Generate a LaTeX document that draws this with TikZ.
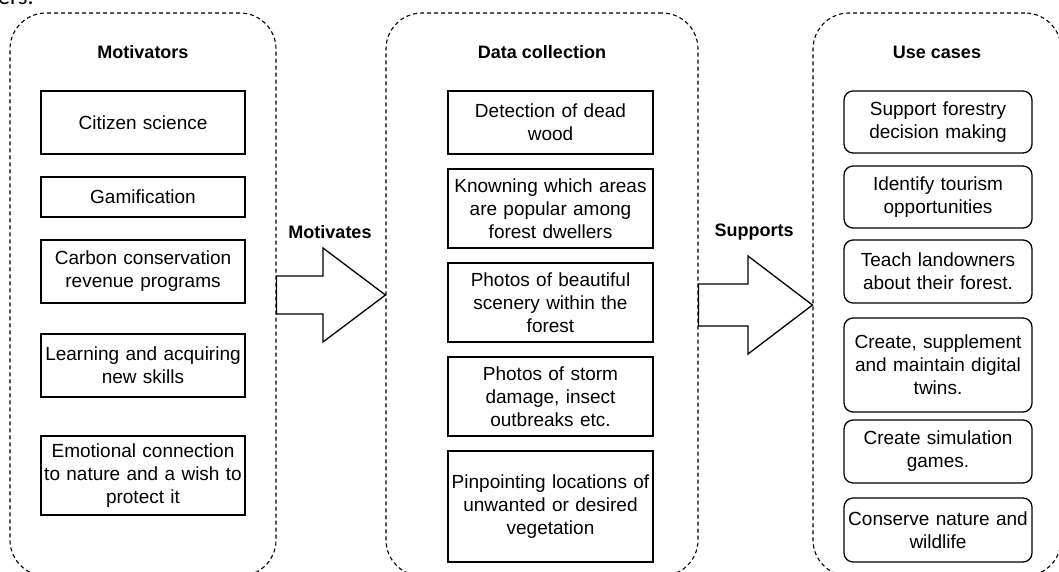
\documentclass[tikz,border=0pt]{standalone}
\usepackage{fontspec}
\setmainfont{Liberation Sans}
\newfontfamily\calib{Carlito}
\begin{document}
\begin{tikzpicture}[x=1pt,y=-1pt,
  cont/.style={draw, dash pattern=on 4pt off 3pt, line width=1.1pt, rounded corners=36pt, inner sep=0pt},
  mbox/.style={draw, line width=1.3pt, align=center, inner sep=0pt, font=\fontsize{19}{23}\selectfont},
  rbox/.style={mbox, rounded corners=9pt},
  ttl/.style={font=\fontsize{18}{22}\selectfont\bfseries},
  barrow/.style={draw, line width=1.3pt, fill=white, line join=miter}]
\useasboundingbox (0,0) rectangle (1059,572);
\clip (0,0) rectangle (1059,572);
% fragment of caption text above
\node[anchor=base west, inner sep=0pt, font=\calib\fontsize{24}{28}\selectfont] (frag) at (-2,5) {ers.};
% containers
\node[cont, minimum width=266pt, minimum height=563pt] (L) at (143,294.5) {};
\node[cont, minimum width=312pt, minimum height=563pt] (M) at (542,294.5) {};
\node[cont, minimum width=248pt, minimum height=563pt] (R) at (937,294.5) {};
% titles
\node[ttl] (tL) at (143,52) {Motivators};
\node[ttl] (tM) at (542,52) {Data collection};
\node[ttl] (tR) at (937,52) {Use cases};
% left boxes
\node[mbox, minimum width=204pt, minimum height=63pt, text width=202pt] (cs) at (143,122.5) {Citizen science};
\node[mbox, minimum width=204pt, minimum height=40pt, text width=202pt] (gam) at (143,197) {Gamification};
\node[mbox, minimum width=204pt, minimum height=63pt, text width=202pt] (carb) at (143,271.5) {Carbon conservation\\revenue programs};
\node[mbox, minimum width=204pt, minimum height=63pt, text width=202pt] (learn) at (143,365.5) {Learning and acquiring\\new skills};
\node[mbox, minimum width=204pt, minimum height=79pt, text width=202pt] (emo) at (143,475.5) {Emotional connection\\to nature and a wish to\\protect it};
% middle boxes
\node[mbox, minimum width=205pt, minimum height=63pt, text width=203pt] (det) at (550.5,122.5) {Detection of dead\\wood};
\node[mbox, minimum width=205pt, minimum height=79pt, text width=203pt] (know) at (550.5,208.5) {Knowning which areas\\are popular among\\forest dwellers};
\node[mbox, minimum width=205pt, minimum height=79pt, text width=203pt] (beau) at (550.5,302.5) {Photos of beautiful\\scenery within the\\forest};
\node[mbox, minimum width=205pt, minimum height=79pt, text width=203pt] (storm) at (550.5,396.5) {Photos of storm\\damage, insect\\outbreaks etc.};
\node[mbox, minimum width=205pt, minimum height=111pt, text width=203pt] (pin) at (550.5,506.5) {Pinpointing locations of\\unwanted or desired\\vegetation};
% right boxes
\node[rbox, minimum width=188pt, minimum height=62pt, text width=186pt] (sup) at (938,122) {Support forestry\\decision making};
\node[rbox, minimum width=188pt, minimum height=62pt, text width=186pt] (ident) at (938,197) {Identify tourism\\opportunities};
\node[rbox, minimum width=188pt, minimum height=63pt, text width=186pt] (teach) at (938,271.5) {Teach landowners\\about their forest.};
\node[rbox, minimum width=188pt, minimum height=94pt, text width=186pt] (twin) at (938,365) {Create, supplement\\and maintain digital\\twins.};
\node[rbox, minimum width=188pt, minimum height=63pt, text width=186pt] (sim) at (938,451.5) {Create simulation\\games.};
\node[rbox, minimum width=188pt, minimum height=64pt, text width=186pt] (cons) at (938,530) {Conserve nature and\\wildlife};
% block arrows
\coordinate (a1tip) at (M.west |- 0,295);
\coordinate (a2tip) at (R.west |- 0,305);
\draw[barrow] (L.east |- 0,276) -- (323,276) -- (323,248) -- (a1tip) -- (323,342) -- (323,314) -- (L.east |- 0,314) -- cycle;
\draw[barrow] (M.east |- 0,284) -- (748,284) -- (748,256) -- (a2tip) -- (748,354) -- (748,326) -- (M.east |- 0,326) -- cycle;
\node[ttl] (lab1) at (330,232) {Motivates};
\node[ttl] (lab2) at (754,232) {Supports};
\end{tikzpicture}
\end{document}
